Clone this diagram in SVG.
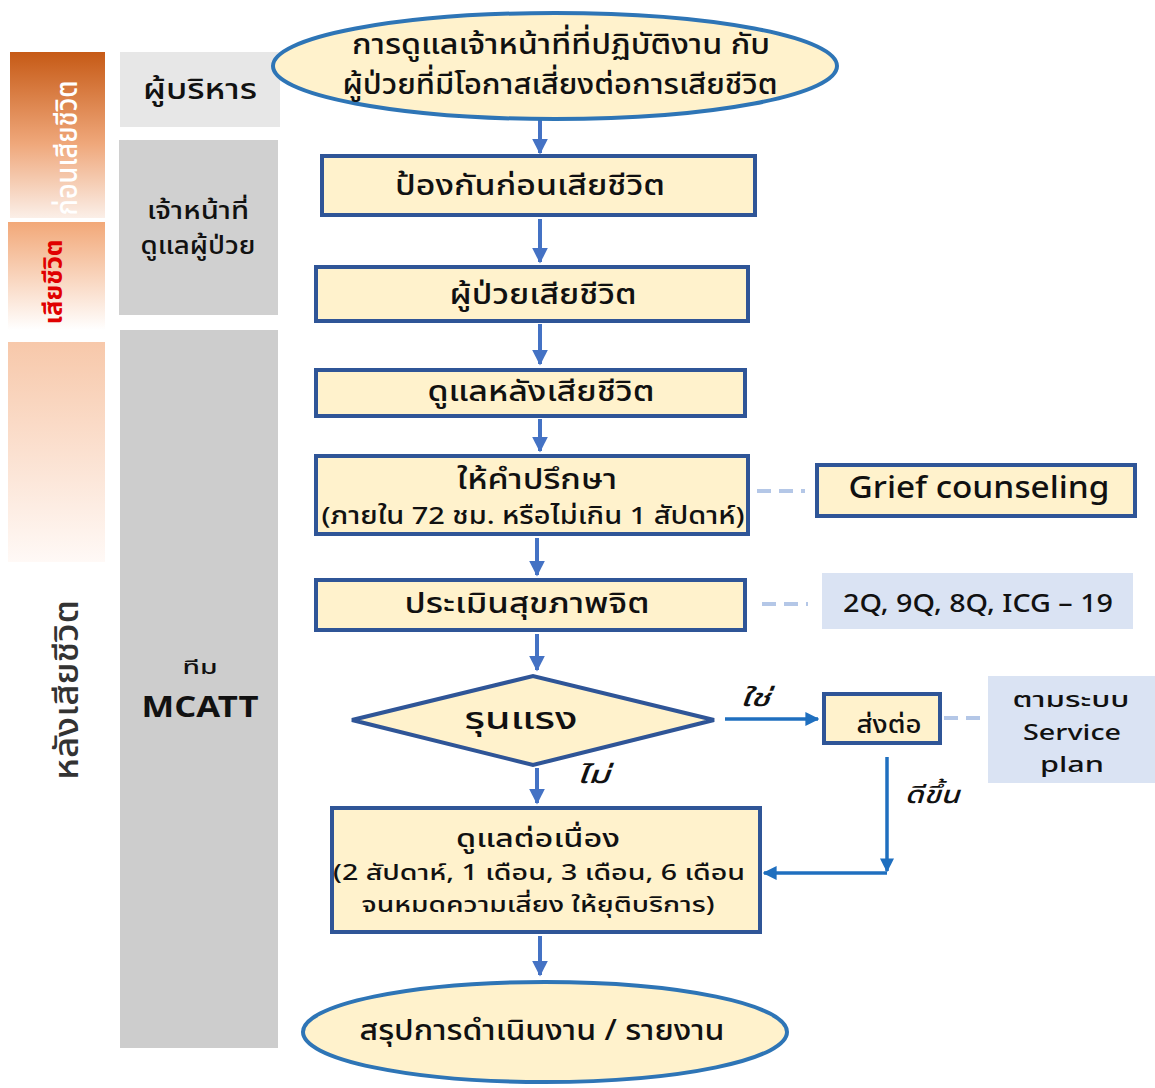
<svg xmlns="http://www.w3.org/2000/svg" width="1155" height="1088" viewBox="0 0 1155 1088">
<defs>
<linearGradient id="g1" x1="0" y1="0" x2="0" y2="1"><stop offset="0" stop-color="#C65A16"/><stop offset="0.55" stop-color="#EFA77A"/><stop offset="1" stop-color="#FBEFE8"/></linearGradient>
<linearGradient id="g2" x1="0" y1="0" x2="0" y2="1"><stop offset="0" stop-color="#F2A878"/><stop offset="1" stop-color="#FFFFFF"/></linearGradient>
<linearGradient id="g3" x1="0" y1="0" x2="0" y2="1"><stop offset="0" stop-color="#F7C8AA"/><stop offset="1" stop-color="#FFF9F6"/></linearGradient>
<marker id="ah" viewBox="0 0 10 10" refX="9" refY="5" markerWidth="4" markerHeight="4" orient="auto" markerUnits="strokeWidth"><path d="M0,0 L10,5 L0,10 z" fill="#4472C4"/></marker>
<marker id="ah2" viewBox="0 0 10 10" refX="9" refY="5" markerWidth="4" markerHeight="4" orient="auto" markerUnits="strokeWidth"><path d="M0,0 L10,5 L0,10 z" fill="#1F6FBF"/></marker>
</defs>
<style>
text{font-family:"Noto Sans Thai","Noto Sans","DejaVu Sans",sans-serif;fill:#111;text-anchor:middle;dominant-baseline:central;font-weight:500}
.box{fill:#FFF2CC;stroke:#2F5597;stroke-width:4}
.ell{fill:#FFF2CC;stroke:#2E75B6;stroke-width:4}
.lbl{fill:#DAE3F3}
.m{font-size:29px}
.s{font-size:24px}
.arr{stroke:#4472C4;stroke-width:4;fill:none;marker-end:url(#ah)}
.arr2{stroke:#1F6FBF;stroke-width:3.5;fill:none;marker-end:url(#ah2)}
.dash{stroke:#B4C7E7;stroke-width:4;stroke-dasharray:14 8;fill:none}
.it{font-style:italic;font-size:24px}
</style>
<g id="phase-before"><rect x="10" y="52" width="95" height="166" fill="url(#g1)"/><text transform="translate(68,148) rotate(-90)" style="font-size:30px;fill:#fff" textLength="135" lengthAdjust="spacingAndGlyphs">ก่อนเสียชีวิต</text></g>
<g id="phase-death"><rect x="8" y="222" width="97" height="108" fill="url(#g2)"/><text transform="translate(55,282) rotate(-90)" style="font-size:24px;fill:#E00000;font-weight:bold" textLength="85" lengthAdjust="spacingAndGlyphs">เสียชีวิต</text></g>
<g id="phase-after"><rect x="8" y="342" width="97" height="220" fill="url(#g3)"/><text transform="translate(68,690) rotate(-90)" style="font-size:33px;fill:#333" textLength="180" lengthAdjust="spacingAndGlyphs">หลังเสียชีวิต</text></g>
<g id="role-admin"><rect x="120" y="52" width="160" height="75" fill="#E7E7E7"/><text x="200" y="90" style="font-size:29px" textLength="114" lengthAdjust="spacingAndGlyphs">ผู้บริหาร</text></g>
<g id="role-staff"><rect x="119" y="140" width="159" height="175" fill="#D0D0D0"/><text x="198" y="212" style="font-size:24px" textLength="102" lengthAdjust="spacingAndGlyphs">เจ้าหน้าที่</text><text x="198" y="247" style="font-size:24px" textLength="115" lengthAdjust="spacingAndGlyphs">ดูแลผู้ป่วย</text></g>
<g id="role-mcatt"><rect x="120" y="330" width="158" height="718" fill="#CDCDCD"/><text x="200" y="668" style="font-size:20px" textLength="35" lengthAdjust="spacingAndGlyphs">ทีม</text><text x="200" y="708" style="font-size:28px;font-weight:bold" textLength="117" lengthAdjust="spacingAndGlyphs">MCATT</text></g>
<g id="connectors">
<line class="arr" x1="540" y1="120" x2="540" y2="153"/>
<line class="arr" x1="540" y1="219" x2="540" y2="262"/>
<line class="arr" x1="540" y1="324" x2="540" y2="364"/>
<line class="arr" x1="540" y1="419" x2="540" y2="451"/>
<line class="arr" x1="537" y1="538" x2="537" y2="575"/>
<line class="arr" x1="537" y1="634" x2="537" y2="670"/>
<line class="arr" x1="537" y1="768" x2="537" y2="803"/>
<line class="arr" x1="540" y1="936" x2="540" y2="975"/>
<line class="arr2" x1="725" y1="719" x2="818" y2="719"/>
<line class="arr2" x1="887" y1="757" x2="887" y2="871"/>
<line class="arr2" x1="887" y1="873" x2="764" y2="873"/>
<line class="dash" x1="757" y1="491" x2="805" y2="491"/>
<line class="dash" x1="762" y1="604" x2="808" y2="604"/>
<line class="dash" x1="944" y1="718" x2="988" y2="718"/>
<text x="755" y="699" class="it" textLength="30" lengthAdjust="spacingAndGlyphs">ใช่</text>
<text x="593" y="776" class="it" textLength="33" lengthAdjust="spacingAndGlyphs">ไม่</text>
<text x="932" y="796" class="it" textLength="55" lengthAdjust="spacingAndGlyphs">ดีขึ้น</text>
</g>
<g id="start"><ellipse class="ell" cx="555" cy="66" rx="282" ry="53"/><text x="561" y="45" class="m" textLength="418" lengthAdjust="spacingAndGlyphs">การดูแลเจ้าหน้าที่ที่ปฏิบัติงาน กับ</text><text x="560" y="85" class="m" textLength="435" lengthAdjust="spacingAndGlyphs">ผู้ป่วยที่มีโอกาสเสี่ยงต่อการเสียชีวิต</text></g>
<g id="prevent"><rect class="box" x="322" y="156" width="433" height="59"/><text x="530" y="186" class="m" textLength="270" lengthAdjust="spacingAndGlyphs">ป้องกันก่อนเสียชีวิต</text></g>
<g id="death"><rect class="box" x="316" y="267" width="432" height="54"/><text x="543" y="295" class="m" textLength="187" lengthAdjust="spacingAndGlyphs">ผู้ป่วยเสียชีวิต</text></g>
<g id="post-care"><rect class="box" x="316" y="370" width="429" height="46"/><text x="541" y="392" class="m" textLength="227" lengthAdjust="spacingAndGlyphs">ดูแลหลังเสียชีวิต</text></g>
<g id="counsel"><rect class="box" x="316" y="456" width="432" height="78"/><text x="537" y="480" class="m" textLength="160" lengthAdjust="spacingAndGlyphs">ให้คำปรึกษา</text><text x="533" y="517" class="s" textLength="423" lengthAdjust="spacingAndGlyphs">(ภายใน 72 ชม. หรือไม่เกิน 1 สัปดาห์)</text></g>
<g id="grief"><rect class="box" x="817" y="465" width="318" height="51"/><text x="979" y="489" style="font-size:30px" textLength="261" lengthAdjust="spacingAndGlyphs">Grief counseling</text></g>
<g id="assess"><rect class="box" x="316" y="580" width="429" height="50"/><text x="527" y="604" class="m" textLength="245" lengthAdjust="spacingAndGlyphs">ประเมินสุขภาพจิต</text></g>
<g id="tools"><rect class="lbl" x="822" y="573" width="311" height="56"/><text x="978" y="604" style="font-size:25px" textLength="270" lengthAdjust="spacingAndGlyphs">2Q, 9Q, 8Q,  ICG – 19</text></g>
<g id="severe"><polygon points="352,720 533,676 714,720 533,765" fill="#FFF2CC" stroke="#2F5597" stroke-width="4"/><text x="521" y="719" style="font-size:31px" textLength="113" lengthAdjust="spacingAndGlyphs">รุนแรง</text></g>
<g id="refer"><rect class="box" x="824" y="694" width="116" height="49"/><text x="889" y="726" style="font-size:24px" textLength="65" lengthAdjust="spacingAndGlyphs">ส่งต่อ</text></g>
<g id="service"><rect class="lbl" x="988" y="676" width="167" height="107"/><text x="1071" y="700" style="font-size:21px" textLength="117" lengthAdjust="spacingAndGlyphs">ตามระบบ</text><text x="1072" y="733" style="font-size:22px" textLength="98" lengthAdjust="spacingAndGlyphs">Service</text><text x="1072" y="765" style="font-size:22px" textLength="64" lengthAdjust="spacingAndGlyphs">plan</text></g>
<g id="follow"><rect class="box" x="332" y="808" width="428" height="124"/><text x="538" y="839" style="font-size:25px" textLength="164" lengthAdjust="spacingAndGlyphs">ดูแลต่อเนื่อง</text><text x="539" y="873" style="font-size:21px" textLength="412" lengthAdjust="spacingAndGlyphs">(2 สัปดาห์, 1 เดือน, 3 เดือน, 6 เดือน</text><text x="538" y="905" style="font-size:21px" textLength="353" lengthAdjust="spacingAndGlyphs">จนหมดความเสี่ยง ให้ยุติบริการ)</text></g>
<g id="end"><ellipse class="ell" cx="545" cy="1032" rx="242" ry="50"/><text x="542" y="1031" class="m" textLength="365" lengthAdjust="spacingAndGlyphs">สรุปการดำเนินงาน / รายงาน</text></g>
</svg>
